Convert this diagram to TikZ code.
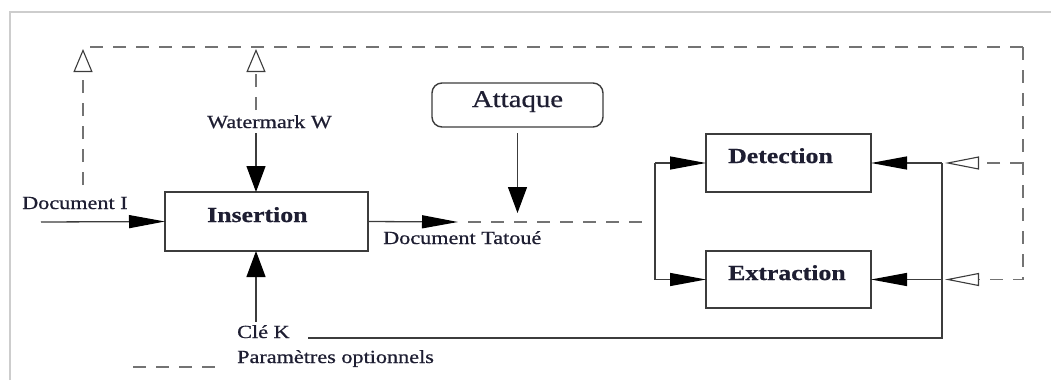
\documentclass[tikz,border=0pt]{standalone}
\usepackage{fontspec}
\setmainfont{Liberation Serif}
\newfontfamily\labfont[FakeStretch=1.2,FakeBold=0.7]{Liberation Serif}
\newfontfamily\boxfont[FakeStretch=1.2,FakeBold=0.8]{Liberation Serif}
\usetikzlibrary{arrows.meta}
\definecolor{txt}{RGB}{30,30,50}
\definecolor{lin}{RGB}{60,60,60}
\definecolor{dsh}{RGB}{115,115,115}
\definecolor{frm}{RGB}{205,205,205}
\tikzset{
  sline/.style={draw=lin, line width=1.3pt},
  dline/.style={draw=dsh, line width=1.5pt, dash pattern=on 13pt off 10pt},
  arrH/.style={-{Triangle[length=36pt,width=13pt,color=black]}},
  arrV/.style={-{Triangle[length=26pt,width=19pt,color=black]}},
  openH/.style={-{Triangle[open,length=34pt,width=13pt,color=lin,line width=1.1pt]}},
  openV/.style={-{Triangle[open,length=23pt,width=19pt,color=lin,line width=1.1pt]}},
  boxx/.style={draw=lin, line width=1.4pt, inner sep=0pt, outer sep=0pt},
  lab/.style={text=txt, inner sep=0pt, font=\labfont\fontsize{18.5}{20}\selectfont},
  blab/.style={text=txt, inner sep=0pt, font=\boxfont\bfseries\fontsize{21.5}{23}\selectfont},
}
\begin{document}
\begin{tikzpicture}[x=1pt,y=-1pt]
\useasboundingbox (0,0) rectangle (1051,380);
% frame
\draw[frm, line width=1.5pt] (10,380) -- (10,12) -- (1051,12);

% boxes
\node[boxx, minimum width=203pt, minimum height=59pt] (ins) at (266.5,221.5) {};
\node[boxx, minimum width=165pt, minimum height=58pt] (det) at (788.5,163) {};
\node[boxx, minimum width=165pt, minimum height=57pt] (ext) at (788.5,279.5) {};
\node[boxx, rounded corners=10pt, minimum width=171pt, minimum height=44pt] (att) at (517.5,105) {};

% texts
\node[blab, anchor=base west] (tins) at (207,222) {Insertion};
\node[blab, anchor=base west] (tdet) at (728,163) {Detection};
\node[blab, anchor=base west] (text) at (728,280) {Extraction};
\node[lab, anchor=base, font=\labfont\fontsize{24}{26}\selectfont] (tatt) at (517.5,107) {Attaque};
\node[lab, anchor=base west] (ldoc) at (22,209) {Document I};
\node[lab, anchor=base west] (lwm) at (207,128) {Watermark W};
\node[lab, anchor=base west] (lcle) at (237,338) {Clé K};
\node[lab, anchor=base west] (lpar) at (237,363) {Paramètres optionnels};
\node[lab, anchor=base west] (ltat) at (383,244) {Document Tatoué};

% coordinates
\coordinate (docin) at (41,222);
\coordinate (wmA) at (256,133);
\coordinate (cleA) at (256,322);
\coordinate (tat) at (458,222);
\coordinate (br) at (655,222);
\coordinate (attTip) at (517.5,213);
\coordinate (cleE) at (308,338);
\coordinate (jK) at (942,338);
\coordinate (busL) at (83,47);
\coordinate (busR) at (1023,47);
\coordinate (jD) at (945,163);
\coordinate (jE) at (945,279.5);
\coordinate (dIbot) at (83,185);
\coordinate (wmT) at (256,110);
\coordinate (lg1) at (133,367);
\coordinate (lg2) at (217,367);

% solid connectors
\draw[sline, arrH] (docin) -- (ins.west);
\draw[sline, arrV] (wmA) -- (wmA |- ins.north);
\draw[sline, arrV] (cleA) -- (cleA |- ins.south);
\draw[sline, arrH] (ins.east) -- (tat);
\draw[sline, arrV, shorten <=6pt] (att.south) -- (attTip);
\draw[sline] (br |- det.west) -- (br |- ext.west);
\draw[sline, arrH] (br |- det.west) -- (det.west);
\draw[sline, arrH] (br |- ext.west) -- (ext.west);
\draw[sline] (cleE) -- (jK) -- (jK |- det.east);
\draw[sline, arrH] (jK |- det.east) -- (det.east);
\draw[sline, arrH] (jK |- ext.east) -- (ext.east);

% dashed connectors
\draw[dline, dash phase=13pt] (tat) -- ([xshift=-8pt]br);
\draw[dline, dash phase=16pt] (busL) -- (busR);
\draw[dline, openH] (busR) |- (jE);
\draw[dline, openH] (busR |- jD) -- (jD);
\draw[dline, openV, shorten >=2pt] (dIbot) -- (dIbot |- busL);
\draw[dline, openV, shorten >=2pt] (wmT) -- (wmT |- busL);
\draw[dline] (lg1) -- (lg2);
\end{tikzpicture}
\end{document}
